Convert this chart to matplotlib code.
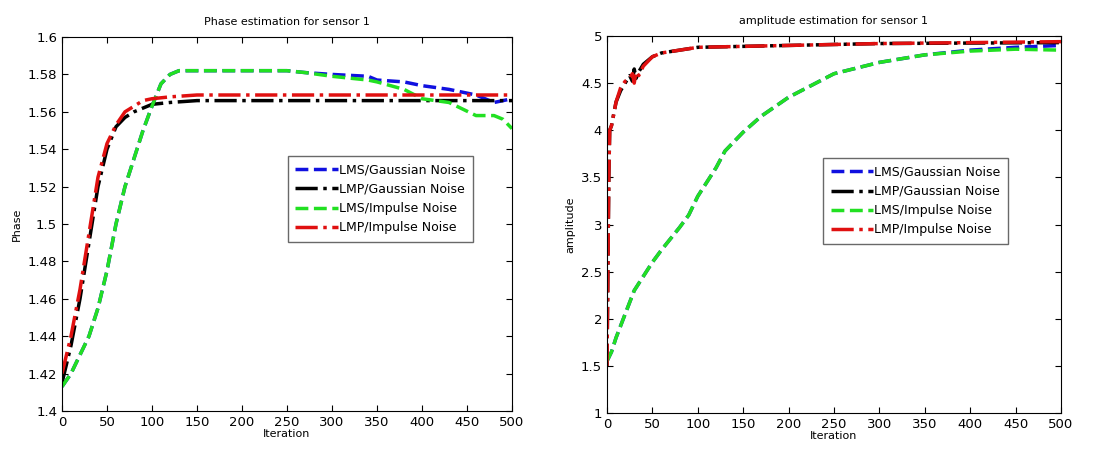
import matplotlib.pyplot as plt

# iteration samples
iters_slow = [0, 10, 20, 30, 40, 50, 60, 70, 80, 90, 100, 110, 120, 130, 150, 200, 250, 270,
              300, 340, 350, 380, 400, 430, 460, 480, 490, 500]
phase_lms_gauss = [1.413, 1.420, 1.430, 1.440, 1.455, 1.475, 1.500, 1.520, 1.535, 1.550, 1.563, 1.575,
                   1.580, 1.582, 1.582, 1.582, 1.582, 1.581,
                   1.580, 1.579, 1.577, 1.576, 1.574, 1.572, 1.569, 1.565, 1.566, 1.567]
phase_lms_imp = [1.413, 1.420, 1.430, 1.440, 1.455, 1.475, 1.500, 1.520, 1.535, 1.550, 1.563, 1.575,
                 1.580, 1.582, 1.582, 1.582, 1.582, 1.581,
                 1.579, 1.577, 1.576, 1.572, 1.567, 1.565, 1.558, 1.558, 1.556, 1.551]

iters_fast = [0, 10, 20, 30, 40, 50, 60, 70, 80, 90, 100, 120, 150, 500]
phase_lmp_gauss = [1.415, 1.435, 1.460, 1.490, 1.520, 1.540, 1.552, 1.557, 1.560, 1.562, 1.564,
                   1.565, 1.566, 1.566]
phase_lmp_imp = [1.420, 1.440, 1.465, 1.495, 1.525, 1.543, 1.553, 1.560, 1.563, 1.566, 1.567,
                 1.568, 1.569, 1.569]

amp_iters_slow = [0, 5, 10, 20, 30, 40, 50, 60, 70, 80, 90, 100, 110, 120, 130, 140, 150, 170,
                  200, 250, 300, 350, 400, 450, 500]
amp_lms_gauss = [1.55, 1.65, 1.80, 2.05, 2.30, 2.45, 2.60, 2.73, 2.85, 2.97, 3.10, 3.30, 3.45,
                 3.60, 3.78, 3.88, 3.98, 4.15, 4.35, 4.60, 4.72, 4.80, 4.85, 4.88, 4.90]
amp_lms_imp = [1.55, 1.65, 1.80, 2.05, 2.30, 2.45, 2.60, 2.73, 2.85, 2.97, 3.10, 3.30, 3.45,
               3.60, 3.78, 3.88, 3.98, 4.15, 4.35, 4.60, 4.72, 4.80, 4.84, 4.86, 4.85]

amp_iters_fast = [0, 1, 2, 3, 5, 10, 15, 20, 25, 28, 30, 32, 35, 40, 50, 60, 80, 100, 150, 200,
                  300, 500]
amp_lmp_gauss = [1.5, 2.5, 3.5, 4.0, 4.05, 4.30, 4.42, 4.50, 4.58, 4.52, 4.65, 4.55, 4.62, 4.70,
                 4.78, 4.82, 4.85, 4.88, 4.89, 4.90, 4.92, 4.93]
amp_lmp_imp = [1.5, 2.5, 3.5, 4.0, 4.05, 4.30, 4.45, 4.52, 4.55, 4.60, 4.50, 4.62, 4.58, 4.68,
               4.78, 4.82, 4.85, 4.88, 4.89, 4.90, 4.92, 4.94]

labels = ['LMS/Gaussian Noise', 'LMP/Gaussian Noise', 'LMS/Impulse Noise', 'LMP/Impulse Noise']
blue, black, green, red = '#1010e0', '#000000', '#22e022', '#e01010'


def style_axes(ax, title, ylabel, leg_anchor):
    ax.set_title(title, fontsize=8, pad=9)
    ax.set_xlabel('Iteration', fontsize=8, labelpad=0)
    ax.set_ylabel(ylabel, fontsize=8, labelpad=4)
    ax.tick_params(direction='in', top=True, right=True, labelsize=9.5, length=4)
    ax.set_xlim(0, 500)
    ax.set_xticks(range(0, 501, 50))
    leg = ax.legend(fontsize=9, handlelength=3.4, handletextpad=0.1, borderpad=0.6,
                    labelspacing=0.5, fancybox=False, edgecolor='#444444',
                    loc='upper left', bbox_to_anchor=leg_anchor, borderaxespad=0)
    leg.get_frame().set_linewidth(1.0)


fig = plt.figure(figsize=(10.99, 4.5), dpi=100)

ax1 = fig.add_axes([0.0564, 0.0867, 0.4095, 0.831])
ax1.plot(iters_slow, phase_lms_gauss, '--', color=blue, lw=2.5, label=labels[0])
ax1.plot(iters_fast, phase_lmp_gauss, '-.', color=black, lw=2.5, label=labels[1])
ax1.plot(iters_slow, phase_lms_imp, '--', color=green, lw=2.5, label=labels[2])
ax1.plot(iters_fast, phase_lmp_imp, '-.', color=red, lw=2.5, label=labels[3])
ax1.set_ylim(1.4, 1.6)
ax1.set_yticks([1.4 + 0.02 * i for i in range(11)])
ax1.set_yticklabels(['1.4', '1.42', '1.44', '1.46', '1.48', '1.5', '1.52', '1.54', '1.56', '1.58', '1.6'])
style_axes(ax1, 'Phase estimation for sensor 1', 'Phase', (0.502, 0.682))

ax2 = fig.add_axes([0.5523, 0.082, 0.4131, 0.838])
ax2.plot(amp_iters_slow, amp_lms_gauss, '--', color=blue, lw=2.5, label=labels[0])
ax2.plot(amp_iters_fast, amp_lmp_gauss, '-.', color=black, lw=2.5, label=labels[1])
ax2.plot(amp_iters_slow, amp_lms_imp, '--', color=green, lw=2.5, label=labels[2])
ax2.plot(amp_iters_fast, amp_lmp_imp, '-.', color=red, lw=2.5, label=labels[3])
ax2.set_ylim(1, 5)
ax2.set_yticks([1, 1.5, 2, 2.5, 3, 3.5, 4, 4.5, 5])
ax2.set_yticklabels(['1', '1.5', '2', '2.5', '3', '3.5', '4', '4.5', '5'])
style_axes(ax2, 'amplitude estimation for sensor 1', 'amplitude', (0.476, 0.676))

fig.savefig('out.png', dpi=100)
